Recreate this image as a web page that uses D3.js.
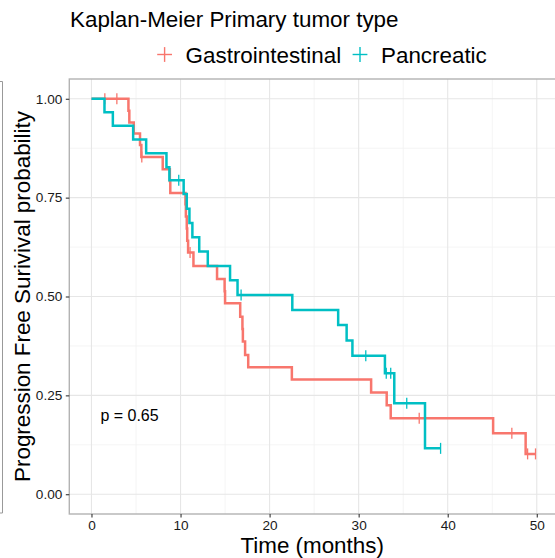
<!DOCTYPE html>
<html>
<head>
<meta charset="utf-8">
<script src="https://cdn.jsdelivr.net/npm/d3@7"></script>
<style>
  body { margin: 0; background: #fff; }
  svg { display: block; font-family: "Liberation Sans", Arial, sans-serif; }
</style>
</head>
<body>
<svg id="chart" width="555" height="558"></svg>
<script>
// Kaplan-Meier step data
const groups = ["Gastrointestinal", "Pancreatic"];
const colors = ["#F8766D", "#00BFC4"];

const gastroTime = [4.15, 4.25, 4.75, 5.45, 5.6, 8.0, 8.8, 8.85, 10.55, 10.6, 10.7, 10.75, 10.85, 11.45,
  14.1, 14.95, 15.0, 16.7, 16.95, 17.0, 17.25, 17.6, 22.5, 31.4, 33.15, 33.6, 45.1, 48.75];
const gastroSurv = [0.97, 0.94, 0.912, 0.883, 0.853, 0.822, 0.792, 0.762, 0.733, 0.702, 0.672, 0.641, 0.611, 0.577,
  0.544, 0.513, 0.483, 0.449, 0.418, 0.386, 0.352, 0.321, 0.29, 0.257, 0.225, 0.192, 0.154, 0.102];
const gastroCensor = [1.5, 2.85, 5.65, 11.07, 36.8, 47.2, 48.97, 49.86];

const pancTime = [1.46, 2.4, 4.68, 6.14, 8.42, 8.75, 10.35, 10.7, 11.0, 11.33, 12.1, 13.06, 15.56, 16.4,
  22.55, 27.7, 28.65, 29.3, 32.95, 34.0, 37.45];
const pancSurv = [0.966, 0.932, 0.897, 0.862, 0.827, 0.794, 0.759, 0.722, 0.686, 0.65, 0.614, 0.577, 0.541, 0.504,
  0.466, 0.428, 0.389, 0.35, 0.306, 0.23, 0.116];
const pancCensor = [9.8, 16.8, 30.8, 33.1, 33.6, 35.4, 39.2];

const xTicks = [0, 10, 20, 30, 40, 50];
const yTicks = [0, 0.25, 0.5, 0.75, 1];
const pLabel = "p = 0.65";

const series = [
  { name: groups[0], color: colors[0], time: gastroTime, surv: gastroSurv, censor: gastroCensor },
  { name: groups[1], color: colors[1], time: pancTime, surv: pancSurv, censor: pancCensor }
];

const svg = d3.select("#chart");
const pLeft = 69.3, pRight = 557.7, pTop = 79, pBottom = 514;
const bigFont = "22.4px";

const x = d3.scaleLinear().domain([-2.49, 52.35]).range([pLeft, pRight]);
const y = d3.scaleLinear().domain([-0.05, 1.05]).range([pBottom, pTop]);

// grid
const grid = svg.append("g");
const xMinor = d3.range(5, 50, 10), yMinor = [0.125, 0.375, 0.625, 0.875];
grid.selectAll(".xm").data(xMinor).enter().append("line")
  .attr("x1", d => x(d)).attr("x2", d => x(d)).attr("y1", pTop).attr("y2", pBottom)
  .attr("stroke", "#f1f1f1").attr("stroke-width", 0.8);
grid.selectAll(".ym").data(yMinor).enter().append("line")
  .attr("y1", d => y(d)).attr("y2", d => y(d)).attr("x1", pLeft).attr("x2", pRight)
  .attr("stroke", "#f1f1f1").attr("stroke-width", 0.8);
grid.selectAll(".xM").data(xTicks).enter().append("line")
  .attr("x1", d => x(d)).attr("x2", d => x(d)).attr("y1", pTop).attr("y2", pBottom)
  .attr("stroke", "#e6e6e6").attr("stroke-width", 1.1);
grid.selectAll(".yM").data(yTicks).enter().append("line")
  .attr("y1", d => y(d)).attr("y2", d => y(d)).attr("x1", pLeft).attr("x2", pRight)
  .attr("stroke", "#e6e6e6").attr("stroke-width", 1.1);

// panel border
svg.append("rect").attr("x", pLeft).attr("y", pTop)
  .attr("width", pRight - pLeft).attr("height", pBottom - pTop)
  .attr("fill", "none").attr("stroke", "#b3b3b3").attr("stroke-width", 1.4);

// axes
const xAxis = svg.append("g").attr("transform", `translate(0,${pBottom})`)
  .call(d3.axisBottom(x).tickValues(xTicks).tickSize(3.5).tickSizeOuter(0).tickPadding(2.8));
const yAxis = svg.append("g").attr("transform", `translate(${pLeft},0)`)
  .call(d3.axisLeft(y).tickValues(yTicks).tickFormat(d3.format(".2f")).tickSize(3.5).tickSizeOuter(0).tickPadding(3.5));
[xAxis, yAxis].forEach(a => {
  a.select(".domain").remove();
  a.selectAll(".tick line").attr("stroke", "#333").attr("stroke-width", 1.1);
  a.selectAll(".tick text").attr("fill", "#1a1a1a")
    .style("font-size", "13.6px").style("font-family", "'Liberation Sans', Arial, sans-serif");
});

// curves
const line = d3.line().x(d => x(d[0])).y(d => y(d[1])).curve(d3.curveStepAfter);
const survAt = (s, t) => {
  let v = 1;
  s.time.forEach((tt, i) => { if (tt <= t) v = s.surv[i]; });
  return v;
};
series.forEach(s => {
  const pts = [[0, 1]].concat(s.time.map((t, i) => [t, s.surv[i]]));
  const last = d3.max(s.censor.concat(s.time));
  pts.push([last, s.surv[s.surv.length - 1]]);
  svg.append("path").datum(pts).attr("d", line)
    .attr("fill", "none").attr("stroke", s.color).attr("stroke-width", 2.5);
  svg.append("g").selectAll("line").data(s.censor).enter().append("line")
    .attr("x1", d => x(d)).attr("x2", d => x(d))
    .attr("y1", d => y(survAt(s, d)) - 5.5).attr("y2", d => y(survAt(s, d)) + 5.5)
    .attr("stroke", s.color).attr("stroke-width", 1.3);
});

// p value
svg.append("text").attr("x", x(1)).attr("y", 420.5)
  .style("font-size", "16px").attr("fill", "#000").text(pLabel);

// axis titles
svg.append("text").attr("x", (pLeft + 555) / 2).attr("y", 553).attr("text-anchor", "middle")
  .style("font-size", bigFont).attr("fill", "#000").text("Time (months)");
svg.append("text").attr("transform", `translate(29.5,${(pTop + pBottom) / 2}) rotate(-90)`)
  .attr("text-anchor", "middle").style("font-size", bigFont).attr("fill", "#000")
  .text("Progression Free Surivival probability");

// title
svg.append("text").attr("x", 70).attr("y", 26.5).style("font-size", bigFont).attr("fill", "#000")
  .text("Kaplan-Meier Primary tumor type");

// legend
const legendX = [164.6, 360];
series.forEach((s, i) => {
  const g = svg.append("g").attr("transform", `translate(${legendX[i]},54.5)`);
  g.append("line").attr("x1", -7.4).attr("x2", 7.4).attr("stroke", s.color).attr("stroke-width", 1.4);
  g.append("line").attr("y1", -7.4).attr("y2", 7.4).attr("stroke", s.color).attr("stroke-width", 1.4);
  g.append("text").attr("x", 21).attr("y", 8).style("font-size", bigFont).attr("fill", "#000").text(s.name);
});

// edge of neighbouring frame on the far left
svg.append("path").attr("d", "M0,81.5H2.5V513H0").attr("fill", "none")
  .attr("stroke", "#999").attr("stroke-width", 1);
</script>
</body>
</html>
